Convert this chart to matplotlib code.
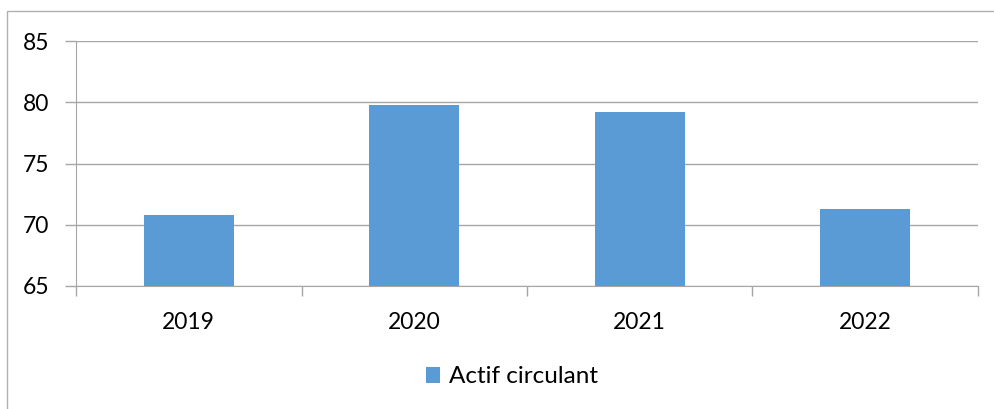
import matplotlib
matplotlib.use('Agg')
import matplotlib.pyplot as plt
from matplotlib.patches import Rectangle

annees = ['2019', '2020', '2021', '2022']
actif_circulant = [70.8, 79.8, 79.2, 71.3]
yticks = [65, 70, 75, 80, 85]

plt.rcParams['font.family'] = ['Lato', 'DejaVu Sans']

fig = plt.figure(figsize=(9.95, 4.09), dpi=100)
ax = fig.add_axes([76/995, 1-286/409, 902/995, 245/409])

gris = '#a6a6a6'
x = list(range(len(annees)))
ax.bar(x, [v - 65 for v in actif_circulant], bottom=65, width=0.4,
       color='#5b9bd5', label='Actif circulant', zorder=3)

ax.set_xlim(-0.5, len(annees) - 0.5)
ax.set_ylim(65, 85)
ax.set_yticks(yticks)
ax.yaxis.grid(True, color=gris, linewidth=1)
ax.set_axisbelow(True)

# ticks de l'axe x entre les catégories
ax.set_xticks([i - 0.5 for i in range(len(annees) + 1)])
ax.set_xticklabels([])
ax.set_xticks(x, minor=True)
ax.set_xticklabels(annees, minor=True, fontsize=16.5)
ax.tick_params(axis='x', which='minor', length=0, pad=19)
ax.tick_params(axis='x', which='major', length=7, color=gris, width=1)
ax.tick_params(axis='y', length=8, color=gris, width=1, labelsize=16.5, pad=11)

for s in ['top', 'right']:
    ax.spines[s].set_visible(False)
for s in ['left', 'bottom']:
    ax.spines[s].set_color(gris)

ax.legend(loc='center', bbox_to_anchor=(0.483, -0.371), frameon=False,
          fontsize=17.5, handlelength=0.6, handleheight=0.6, handletextpad=0.35)

# cadre du graphique
fig.patches.append(Rectangle((7/995, -0.5), 2, 1.5 - 11/409, transform=fig.transFigure,
                             fill=False, edgecolor='#b0b0b0', linewidth=1))

fig.savefig('out.png', dpi=100)
